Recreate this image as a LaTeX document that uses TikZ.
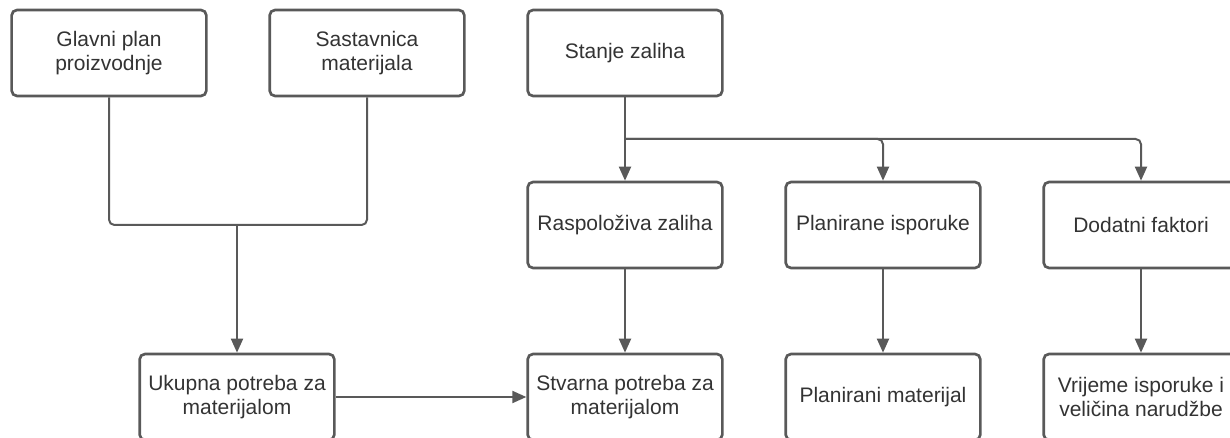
\documentclass[tikz,border=0pt]{standalone}
\usepackage{fontspec}
\setmainfont{Liberation Sans}
\usetikzlibrary{arrows.meta,calc}
\definecolor{boxgray}{HTML}{595959}
\definecolor{textgray}{HTML}{333333}
\tikzstyle{block} = [draw=boxgray,line width=2pt,rounded corners=4pt,minimum width=146pt,minimum height=64.5pt,inner sep=2pt,align=center,text=textgray,font=\fontsize{15.75pt}{18pt}\selectfont,node distance=193.5pt]
\tikzstyle{link} = [draw=boxgray,line width=1.5pt,rounded corners=4pt]
\tikzstyle{arrow} = [link,-{Triangle[length=10.5pt,width=9pt]}]

\begin{document}
\begin{tikzpicture}
\useasboundingbox (-81.75pt,39.75pt) rectangle (840.75pt,-288.75pt);

\node[block] (glavni) at (0,0) {Glavni plan\\proizvodnje};
\node[block,right of=glavni] (sastav) {Sastavnica\\materijala};
\node[block,right of=sastav] (stanje) {Stanje zaliha};

\node[block,below of=stanje,node distance=129pt] (raspol) {Raspoloživa zaliha};
\node[block,right of=raspol] (planis) {Planirane isporuke};
\node[block,right of=planis] (dodatni) {Dodatni faktori};

\node[block,below of=raspol,node distance=129pt] (stvarna) {Stvarna potreba za\\materijalom};
\node[block,right of=stvarna] (planmat) {Planirani materijal};
\node[block,right of=planmat] (vrijeme) {Vrijeme isporuke i\\veličina narudžbe};
\node[block,left of=stvarna,node distance=291pt] (ukupna) {Ukupna potreba za\\materijalom};

\coordinate (join) at (ukupna |- raspol);
\coordinate (split) at ($(stanje.south)!.5!(raspol.north)$);

\draw[link] (glavni) |- (join) -| (sastav);
\draw[arrow] (join) -- (ukupna);
\draw[arrow] (ukupna) -- (stvarna);

\draw[arrow] (stanje) -- (raspol);
\draw[arrow] (split) -| (planis);
\draw[arrow] (split) -| (dodatni);

\draw[arrow] (raspol) -- (stvarna);
\draw[arrow] (planis) -- (planmat);
\draw[arrow] (dodatni) -- (vrijeme);
\end{tikzpicture}
\end{document}
